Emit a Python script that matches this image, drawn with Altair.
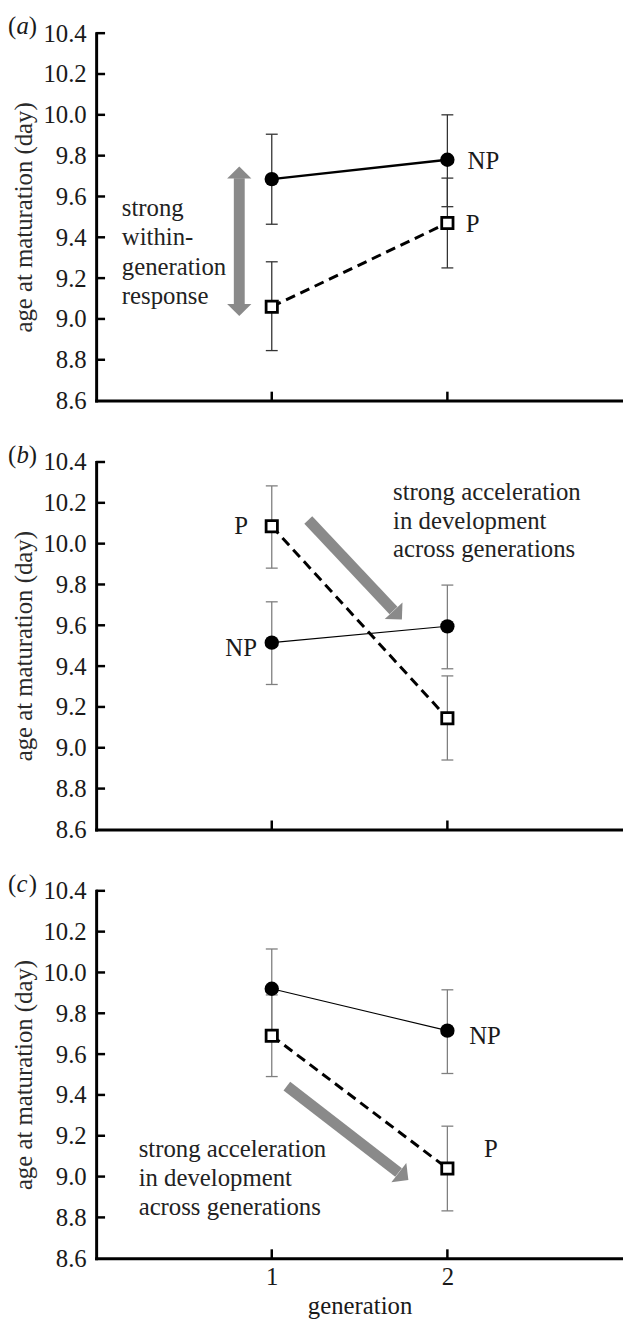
import altair as alt
import pandas as pd

FONT = "Liberation Serif"
GEN = [1, 2]

# ---- panel (a) ----
A_NP = [9.685, 9.78]
A_NP_LO = [9.464, 9.55]
A_NP_HI = [9.905, 10.0]
A_P = [9.06, 9.47]
A_P_LO = [8.845, 9.25]
A_P_HI = [9.28, 9.69]
# ---- panel (b) ----
B_NP = [9.515, 9.595]
B_NP_LO = [9.31, 9.387]
B_NP_HI = [9.715, 9.797]
B_P = [10.085, 9.145]
B_P_LO = [9.88, 8.94]
B_P_HI = [10.283, 9.352]
# ---- panel (c) ----
C_NP = [9.92, 9.715]
C_NP_LO = [9.72, 9.505]
C_NP_HI = [10.115, 9.915]
C_P = [9.69, 9.04]
C_P_LO = [9.49, 8.832]
C_P_HI = [9.89, 9.247]

Y_TICKS = [8.6, 8.8, 9.0, 9.2, 9.4, 9.6, 9.8, 10.0, 10.2, 10.4]
X_TICKS = [1, 2]
PANEL_LETTERS = ["a", "b", "c"]
Y_TITLE = "age at maturation (day)"
X_TITLE = "generation"

# series labels
A_LAB_T = ["NP", "P"]
A_LAB_X = [2.115, 2.105]
A_LAB_Y = [9.775, 9.465]
B_LAB_T = ["P", "NP"]
B_LAB_X = [0.865, 0.916]
B_LAB_Y = [10.087, 9.49]
C_LAB_T = ["NP", "P"]
C_LAB_X = [2.124, 2.208]
C_LAB_Y = [9.69, 9.135]

# annotation text lines
A_NOTE = ["strong", "within-", "generation", "response"]
A_NOTE_X = [0.146] * 4
A_NOTE_Y = [9.542, 9.40, 9.255, 9.111]
B_NOTE = ["strong acceleration", "in development", "across generations"]
B_NOTE_X = [1.691] * 3
B_NOTE_Y = [10.254, 10.113, 9.971]
C_NOTE = ["strong acceleration", "in development", "across generations"]
C_NOTE_X = [0.242] * 3
C_NOTE_Y = [9.137, 8.994, 8.852]

# arrows: shafts and heads
A_SHAFT = {"x": [0.815], "y": [9.072], "x2": [0.815], "y2": [9.689]}
A_HEAD = {"x": [0.815, 0.815], "y": [9.747, 9.014], "ang": [0, 180]}
B_SHAFT = {"x": [1.208], "y": [10.116], "x2": [1.693], "y2": [9.672]}
B_HEAD = {"x": [1.741], "y": [9.628], "ang": [137]}
C_SHAFT = {"x": [1.086], "y": [9.443], "x2": [1.722], "y2": [9.02]}
C_HEAD = {"x": [1.778], "y": [8.983], "ang": [128]}

W = 532
H = 371
FS = 25
TXT = "#1a1a1a"
ARROW = "#8a8a8a"
HEAD_SHAPE = "M0,0L-1,1L1,1Z"
TAG_X = -89
TAG_Y = -7


def panel(letter, np_v, np_lo, np_hi, p_v, p_lo, p_hi, np_width, err_color,
          lab_t, lab_x, lab_y, lab_align, note_t, note_x, note_y,
          shaft, head, show_x):
    pts = pd.DataFrame({
        "gen": GEN * 2,
        "val": np_v + p_v,
        "lo": np_lo + p_lo,
        "hi": np_hi + p_hi,
        "grp": ["NP", "NP", "P", "P"],
    })
    xs = alt.Scale(domain=[0, 3], nice=False, zero=False)
    ys = alt.Scale(domain=[8.6, 10.4], nice=False, zero=False)
    if show_x:
        xaxis = alt.Axis(values=X_TICKS, format="d", ticks=False, grid=False,
                         domainWidth=3, domainColor="black", domainCap="square",
                         labelFont=FONT, labelFontSize=FS, labelColor=TXT,
                         labelPadding=7, title=X_TITLE, titleFont=FONT,
                         titleFontSize=FS, titleFontWeight="normal",
                         titleColor=TXT, titlePadding=4)
    else:
        xaxis = alt.Axis(values=X_TICKS, labels=False, ticks=False, grid=False,
                         domainWidth=3, domainColor="black", domainCap="square",
                         title=None)
    yaxis = alt.Axis(values=Y_TICKS, format=".1f", ticks=False, grid=False,
                     domainWidth=3, domainColor="black", domainCap="square",
                     labelFont=FONT, labelFontSize=FS, labelColor=TXT,
                     labelPadding=10, title=Y_TITLE, titleFont=FONT,
                     titleFontSize=FS, titleFontWeight="normal",
                     titleColor="#2a2a2a", titlePadding=7)

    def X(f):
        return alt.X(f, scale=xs, axis=xaxis)

    def Y(f):
        return alt.Y(f, scale=ys, axis=yaxis)

    base = alt.Chart(pts)
    err = base.mark_rule(color=err_color, strokeWidth=1.3).encode(
        x=X("gen:Q"), y=Y("lo:Q"), y2="hi:Q",
    )
    cap_lo = base.mark_tick(color=err_color, orient="horizontal", size=12,
                            thickness=1.3, opacity=1).encode(
        x=X("gen:Q"), y=Y("lo:Q"),
    )
    cap_hi = base.mark_tick(color=err_color, orient="horizontal", size=12,
                            thickness=1.3, opacity=1).encode(
        x=X("gen:Q"), y=Y("hi:Q"),
    )
    line_np = base.transform_filter(alt.datum.grp == "NP").mark_line(
        color="black", strokeWidth=np_width).encode(x=X("gen:Q"), y=Y("val:Q"))
    line_p = base.transform_filter(alt.datum.grp == "P").mark_line(
        color="black", strokeWidth=3, strokeDash=[10, 6]).encode(
        x=X("gen:Q"), y=Y("val:Q"))
    dot_np = base.transform_filter(alt.datum.grp == "NP").mark_circle(
        color="black", size=210, opacity=1).encode(x=X("gen:Q"), y=Y("val:Q"))
    sq_p = base.transform_filter(alt.datum.grp == "P").mark_point(
        shape="square", filled=True, fill="white", stroke="black",
        strokeWidth=2.8, size=130, opacity=1).encode(x=X("gen:Q"), y=Y("val:Q"))

    ytick_df = pd.DataFrame({"v": Y_TICKS[1:]})
    yticks = alt.Chart(ytick_df).mark_rule(color="black", strokeWidth=2.5).encode(
        y=Y("v:Q"), x=alt.value(0), x2=alt.value(9),
    )
    xtick_df = pd.DataFrame({"v": X_TICKS})
    xticks = alt.Chart(xtick_df).mark_rule(color="black", strokeWidth=2.5).encode(
        x=X("v:Q"), y=alt.value(H), y2=alt.value(H - 9),
    )

    labs = alt.Chart(pd.DataFrame({"t": lab_t, "x": lab_x, "y": lab_y})).mark_text(
        font=FONT, fontSize=FS, color=TXT, align=lab_align, baseline="middle").encode(
        x=X("x:Q"), y=Y("y:Q"), text="t:N",
    )
    notes = alt.Chart(pd.DataFrame({"t": note_t, "x": note_x, "y": note_y})).mark_text(
        font=FONT, fontSize=FS, color="#222222", align="left", baseline="middle").encode(
        x=X("x:Q"), y=Y("y:Q"), text="t:N",
    )
    shaft_l = alt.Chart(pd.DataFrame(shaft)).mark_rule(
        color=ARROW, strokeWidth=11, strokeCap="butt").encode(
        x=X("x:Q"), y=Y("y:Q"), x2="x2:Q", y2="y2:Q",
    )
    head_l = alt.Chart(pd.DataFrame(head)).mark_point(
        shape=HEAD_SHAPE, filled=True, color=ARROW, size=600, opacity=1,
        strokeWidth=0).encode(
        x=X("x:Q"), y=Y("y:Q"), angle=alt.Angle("ang:Q", scale=None),
    )

    open_p = alt.Chart(pd.DataFrame({"t": ["("]})).mark_text(
        font=FONT, fontSize=FS, color=TXT, align="left", baseline="middle").encode(
        text="t:N", x=alt.value(TAG_X), y=alt.value(TAG_Y))
    let_t = alt.Chart(pd.DataFrame({"t": [letter]})).mark_text(
        font=FONT, fontSize=FS, fontStyle="italic", color=TXT, align="left",
        baseline="middle").encode(text="t:N", x=alt.value(TAG_X + 8.5),
                                  y=alt.value(TAG_Y))
    close_p = alt.Chart(pd.DataFrame({"t": [")"]})).mark_text(
        font=FONT, fontSize=FS, color=TXT, align="left", baseline="middle").encode(
        text="t:N", x=alt.value(TAG_X + 21), y=alt.value(TAG_Y))

    return alt.layer(err, cap_lo, cap_hi, shaft_l, head_l, line_np, line_p,
                     dot_np, sq_p, yticks, xticks, labs, notes,
                     open_p, let_t, close_p).properties(width=W, height=H)


pa = panel(PANEL_LETTERS[0], A_NP, A_NP_LO, A_NP_HI, A_P, A_P_LO, A_P_HI, 2.5,
           "#333333", A_LAB_T, A_LAB_X, A_LAB_Y, "left", A_NOTE, A_NOTE_X,
           A_NOTE_Y, A_SHAFT, A_HEAD, False)
pb = panel(PANEL_LETTERS[1], B_NP, B_NP_LO, B_NP_HI, B_P, B_P_LO, B_P_HI, 1.1,
           "#7f7f7f", B_LAB_T, B_LAB_X, B_LAB_Y, "right", B_NOTE, B_NOTE_X,
           B_NOTE_Y, B_SHAFT, B_HEAD, False)
pc = panel(PANEL_LETTERS[2], C_NP, C_NP_LO, C_NP_HI, C_P, C_P_LO, C_P_HI, 1.1,
           "#7f7f7f", C_LAB_T, C_LAB_X, C_LAB_Y, "left", C_NOTE, C_NOTE_X,
           C_NOTE_Y, C_SHAFT, C_HEAD, True)

chart = alt.vconcat(pa, pb, pc, spacing=30).properties(
    padding={"left": 0, "right": 0, "top": 0, "bottom": 0},
    background="white",
).configure(font=FONT).configure_axis(
    labelFont=FONT, titleFont=FONT,
).configure_text(font=FONT).configure_view(strokeWidth=0)

chart.save("out.html", embed_options={"renderer": "svg", "actions": False})
